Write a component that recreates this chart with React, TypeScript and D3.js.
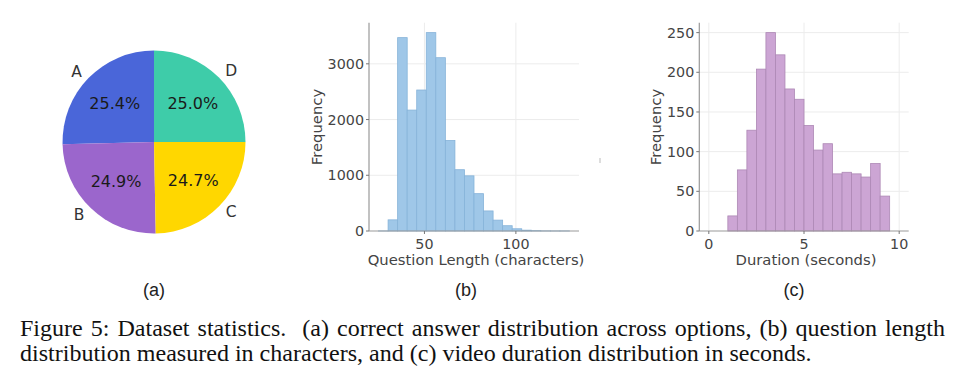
import React, { useEffect, useRef } from "react";
import * as d3 from "d3";

// (a) answer distribution
const answerLabels = ["A", "B", "C", "D"];
const answerShares = [25.4, 24.9, 24.7, 25.0];
const answerColors = ["#4a66d9", "#9b66cc", "#ffd700", "#3ecca9"];

// (b) question length histogram (20 bins)
const lengthBinStart = 24.9;
const lengthBinWidth = 5.22;
const lengthCounts = [1, 200, 3470, 2170, 2530, 3560, 3110, 1625, 1100, 990, 670, 360, 195, 95, 40, 15, 6, 2, 1, 1];
const lengthXTicks = [50, 100];
const lengthYTicks = [0, 1000, 2000, 3000];

// (c) duration histogram (20 bins)
const durationBinStart = 0;
const durationBinWidth = 0.5;
const durationCounts = [0, 0, 19, 77, 127, 204, 250, 222, 179, 166, 133, 102, 110, 72, 74, 72, 68, 85, 44, 0];
const durationXTicks = [0, 5, 10];
const durationYTicks = [0, 50, 100, 150, 200, 250];

const captionLine1 = "Figure 5: Dataset statistics.  (a) correct answer distribution across options, (b) question length";
const captionLine2 = "distribution measured in characters, and (c) video duration distribution in seconds.";

const sans = "'DejaVu Sans', sans-serif";

const App = () => {
  const svgRef = useRef(null);

  useEffect(() => {
    const svg = d3.select(svgRef.current);
    svg.selectAll("*").remove();

    // ---- pie ----
    const cx = 154, cy = 142, r = 91.5;
    const pie = d3.pie().sort(null).startAngle(0).endAngle(-2 * Math.PI);
    const arcs = pie(answerShares);
    const arc = d3.arc().innerRadius(0).outerRadius(r);
    const gPie = svg.append("g").attr("transform", `translate(${cx},${cy})`);
    gPie.selectAll("path")
      .data(arcs)
      .join("path")
      .attr("d", arc)
      .attr("fill", (d, i) => answerColors[i]);
    arcs.forEach((d, i) => {
      const a = (d.startAngle + d.endAngle) / 2;
      const sx = Math.sin(a), sy = -Math.cos(a);
      gPie.append("text")
        .attr("x", sx * r * 0.6)
        .attr("y", sy * r * 0.6)
        .attr("text-anchor", "middle")
        .attr("dominant-baseline", "central")
        .style("font-family", sans)
        .style("font-size", "16px")
        .attr("fill", "#1a1a1a")
        .text(answerShares[i].toFixed(1) + "%");
      gPie.append("text")
        .attr("x", sx * r * 1.1)
        .attr("y", sy * r * 1.1)
        .attr("text-anchor", sx > 0 ? "start" : "end")
        .attr("dominant-baseline", "central")
        .style("font-family", sans)
        .style("font-size", "15.5px")
        .attr("fill", "#333")
        .text(answerLabels[i]);
    });

    // ---- histograms ----
    const drawHist = (opts) => {
      const { x0, x1, counts, binStart, binWidth, xTicks, yTicks, yMax, fill, stroke, xLabel, yLabelX } = opts;
      const nb = counts.length;
      const lo = binStart, hi = binStart + nb * binWidth;
      const pad = (hi - lo) * 0.05;
      const x = d3.scaleLinear().domain([lo - pad, hi + pad]).range([x0, x1]);
      const y = d3.scaleLinear().domain([0, yMax * 1.05]).range([231, 22.7]);
      const g = svg.append("g");

      // grid
      g.selectAll(".gy").data(yTicks.filter(t => t > 0)).join("line")
        .attr("x1", x0).attr("x2", x1)
        .attr("y1", d => y(d)).attr("y2", d => y(d))
        .attr("stroke", "#ececec").attr("stroke-width", 1);
      g.selectAll(".gx").data(xTicks).join("line")
        .attr("x1", d => x(d)).attr("x2", d => x(d))
        .attr("y1", y.range()[1]).attr("y2", 231)
        .attr("stroke", "#ececec").attr("stroke-width", 1);

      // bars
      g.selectAll(".bar").data(counts).join("rect")
        .attr("x", (d, i) => x(binStart + i * binWidth))
        .attr("width", x(binStart + binWidth) - x(binStart))
        .attr("y", d => y(d))
        .attr("height", d => 231 - y(d))
        .attr("fill", fill)
        .attr("stroke", d => (d > 0 ? stroke : "none"))
        .attr("stroke-width", 0.8);

      // spines
      g.append("line").attr("x1", x0).attr("x2", x0).attr("y1", y.range()[1]).attr("y2", 231)
        .attr("stroke", "#999").attr("stroke-width", 1.2);
      g.append("line").attr("x1", x0).attr("x2", x1).attr("y1", 231).attr("y2", 231)
        .attr("stroke", "#999").attr("stroke-width", 1.2);

      // ticks
      yTicks.forEach(t => {
        g.append("line").attr("x1", x0 - 3).attr("x2", x0).attr("y1", y(t)).attr("y2", y(t))
          .attr("stroke", "#777");
        g.append("text").attr("x", x0 - 5).attr("y", y(t))
          .attr("text-anchor", "end").attr("dominant-baseline", "central")
          .style("font-family", sans).style("font-size", "14.3px").attr("fill", "#444")
          .text(t);
      });
      xTicks.forEach(t => {
        g.append("line").attr("x1", x(t)).attr("x2", x(t)).attr("y1", 231).attr("y2", 234)
          .attr("stroke", "#777");
        g.append("text").attr("x", x(t)).attr("y", 243.5)
          .attr("text-anchor", "middle").attr("dominant-baseline", "central")
          .style("font-family", sans).style("font-size", "14.3px").attr("fill", "#444")
          .text(t);
      });

      g.append("text").attr("x", (x0 + x1) / 2 + 2).attr("y", 259)
        .attr("text-anchor", "middle").attr("dominant-baseline", "central")
        .style("font-family", sans).style("font-size", "14.8px").attr("fill", "#444")
        .text(xLabel);
      g.append("text").attr("transform", `translate(${yLabelX},127) rotate(-90)`)
        .attr("text-anchor", "middle").attr("dominant-baseline", "central")
        .style("font-family", sans).style("font-size", "14.8px").attr("fill", "#444")
        .text("Frequency");
    };

    drawHist({
      x0: 369, x1: 579, counts: lengthCounts, binStart: lengthBinStart, binWidth: lengthBinWidth,
      xTicks: lengthXTicks, yTicks: lengthYTicks, yMax: d3.max(lengthCounts),
      fill: "#9fc7e8", stroke: "#86b3d9", xLabel: "Question Length (characters)", yLabelX: 316,
    });
    drawHist({
      x0: 699.3, x1: 908.7, counts: durationCounts, binStart: durationBinStart, binWidth: durationBinWidth,
      xTicks: durationXTicks, yTicks: durationYTicks, yMax: d3.max(durationCounts),
      fill: "#cca5d4", stroke: "#ad88b5", xLabel: "Duration (seconds)", yLabelX: 655,
    });

    // small stray mark
    svg.append("line").attr("x1", 600).attr("x2", 600).attr("y1", 158).attr("y2", 163)
      .attr("stroke", "#bbb").attr("stroke-width", 1);

    // subplot labels
    [["(a)", 154], ["(b)", 466], ["(c)", 794]].forEach(([t, xx]) => {
      svg.append("text").attr("x", xx).attr("y", 290)
        .attr("text-anchor", "middle").attr("dominant-baseline", "central")
        .style("font-family", "'Liberation Sans', Arial, sans-serif").style("font-size", "18px")
        .attr("fill", "#222").text(t);
    });

    // caption
    const serif = "'Liberation Serif', serif";
    const l2 = svg.append("text").attr("x", 20).attr("y", 361)
      .style("font-family", serif).style("font-size", "20px").attr("fill", "#111")
      .text(captionLine2);
    const len2 = l2.node().getComputedTextLength();
    const fs = 20 * 792 / len2;
    l2.style("font-size", fs + "px");
    const l1 = svg.append("text").attr("x", 20).attr("y", 336)
      .style("font-family", serif).style("font-size", fs + "px").attr("fill", "#111")
      .attr("xml:space", "preserve")
      .text(captionLine1);
    const len1 = l1.node().getComputedTextLength();
    const nSpaces = (captionLine1.match(/ /g) || []).length;
    l1.style("word-spacing", ((925 - len1) / nSpaces) + "px");
  }, []);

  return (
    <svg ref={svgRef} width={960} height={373}
      style={{ position: "absolute", left: 0, top: 0, background: "#fff" }} />
  );
};

export default App;
